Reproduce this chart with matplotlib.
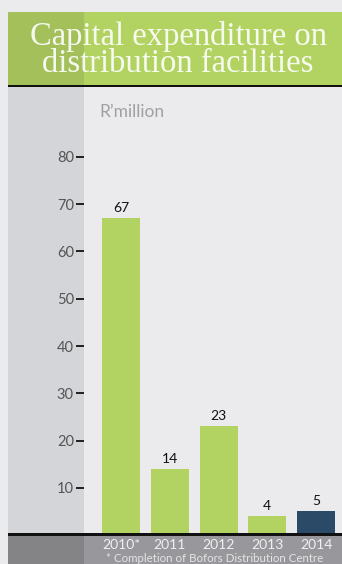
import matplotlib
matplotlib.use("Agg")
import matplotlib.pyplot as plt
from matplotlib.patches import Rectangle

# Data
years = ["2010*", "2011", "2012", "2013", "2014"]
capex = [67, 14, 23, 4, 5]
bar_colors = ["#b2d362", "#b2d362", "#b2d362", "#b2d362", "#2b4a68"]
yticks = [10, 20, 30, 40, 50, 60, 70, 80]
title = "Capital expenditure on\ndistribution facilities"
unit_label = "R\u2019million"
footnote = "* Completion of Bofors Distribution Centre"

W, H = 342, 564
fig = plt.figure(figsize=(W / 100, H / 100), dpi=100)
fig.patch.set_facecolor("#ebebed")

SANS = ["Lato", "DejaVu Sans"]


def box(x, y, w, h, color, z=0):
    """Rectangle given in pixel units measured from the top-left corner."""
    fig.add_artist(Rectangle((x / W, 1 - (y + h) / H), w / W, h / H,
                             transform=fig.transFigure, facecolor=color,
                             edgecolor="none", zorder=z))


# Panel backgrounds
LEFT, SPLIT, HEAD_TOP, HEAD_BOT, BASE = 8, 84, 12, 85, 535
box(LEFT, HEAD_TOP, W - LEFT, HEAD_BOT - HEAD_TOP, "#b2d362")
box(LEFT, HEAD_TOP, SPLIT - LEFT, HEAD_BOT - HEAD_TOP, "#a3c05a")
box(LEFT, HEAD_BOT, W - LEFT, 2, "#111111")
box(LEFT, HEAD_BOT + 2, SPLIT - LEFT, BASE - HEAD_BOT - 2, "#d4d5d8")
box(LEFT, BASE, W - LEFT, H - BASE, "#98989c")
box(LEFT, BASE, SPLIT - LEFT, H - BASE, "#848487")
box(LEFT, BASE - 2, W - LEFT, 2.5, "#111111", z=3)

# Header title
fig.text(178 / W, 1 - 50 / H, title, ha="center", va="center",
         family=["Liberation Serif", "DejaVu Serif"], fontsize=23.5,
         color="white", alpha=0.9, linespacing=0.88)

# Chart axes
px_per_unit = 4.725
step_px = 48.75
first_center = 121
ax = fig.add_axes([SPLIT / W, (H - BASE) / H, (W - SPLIT) / W,
                   (BASE - HEAD_BOT - 2) / H])
ax.set_facecolor("none")
ax.set_ylim(0, (BASE - HEAD_BOT - 2) / px_per_unit)
ax.set_xlim(-(first_center - SPLIT) / step_px, (W - first_center) / step_px)
for s in ax.spines.values():
    s.set_visible(False)

xs = list(range(len(years)))
bars = ax.bar(xs, capex, width=38 / step_px, color=bar_colors, zorder=2)
ax.bar_label(bars, labels=[str(v) for v in capex], padding=3,
             fontsize=10, color="#111111", family=SANS)

ax.set_yticks(yticks)
ax.set_yticklabels([str(t) for t in yticks], family=SANS, fontsize=10.5)
ax.tick_params(axis="y", direction="out", length=5.8, width=1.3,
               color="#111111", pad=1.5, labelcolor="#555555")

ax.set_xticks(xs)
ax.set_xticklabels(years, family=SANS, fontsize=10)
ax.tick_params(axis="x", length=0, pad=3, labelcolor="#f0f0f0")

fig.text(99 / W, 1 - 112 / H, unit_label, ha="left", va="center",
         family=SANS, fontsize=12.5, color="#a0a0a0")
fig.text(106 / W, 1 - 562.5 / H, footnote, ha="left", va="baseline",
         family=SANS, fontsize=8.3, color="#e4e4e4")

fig.savefig("out.png", dpi=100, facecolor=fig.get_facecolor())
